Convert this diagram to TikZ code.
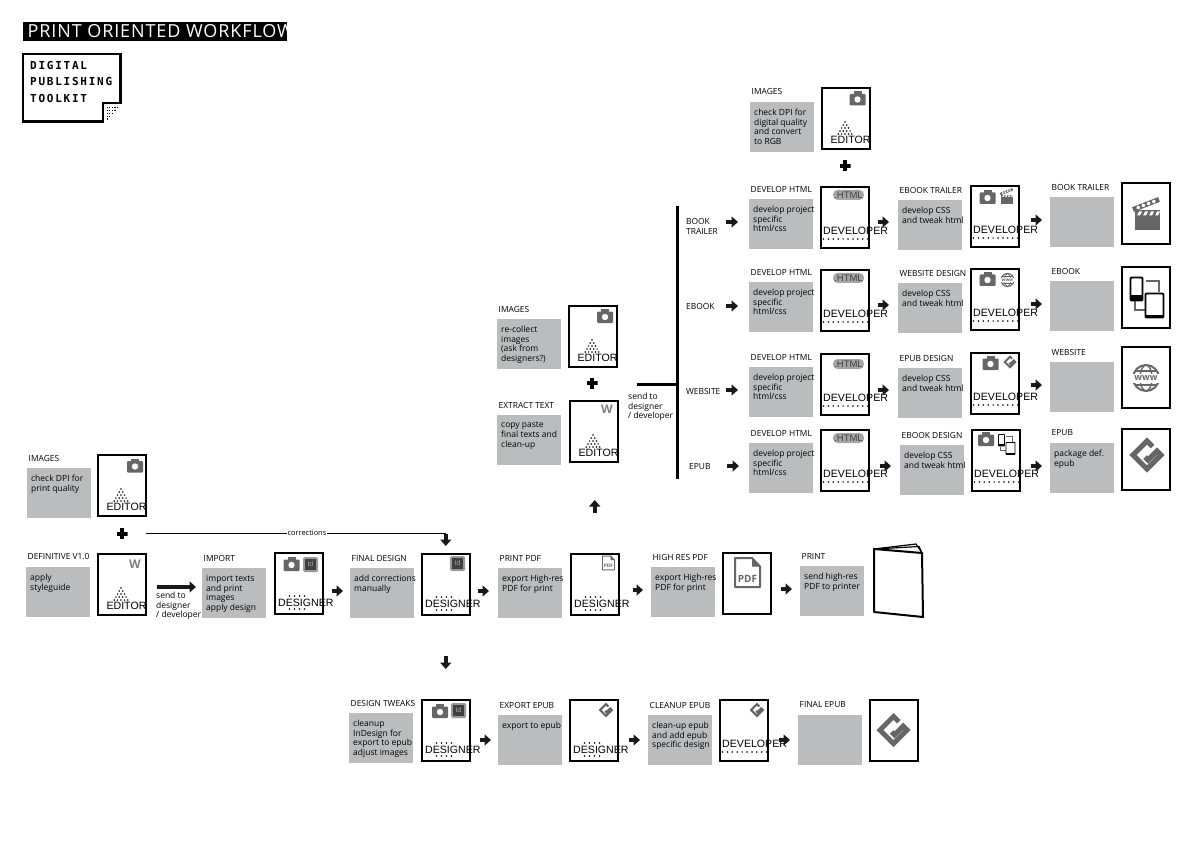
\documentclass[tikz,border=0pt]{standalone}
\usepackage{fontspec}
\setmainfont{Open Sans}
\newfontfamily\headfont[LetterSpace=5]{Open Sans}
\newfontfamily\rolefont{Liberation Sans}
\newfontfamily\logofont[LetterSpace=16]{DejaVu Sans Mono}
\usetikzlibrary{arrows.meta}

\definecolor{boxgrey}{HTML}{BBBCBE}
\definecolor{icongrey}{HTML}{666666}

\tikzset{
    greybox/.style={fill=boxgrey, anchor=north west, minimum width=64pt, minimum height=50pt, inner sep=0},
    steptitle/.style={anchor=west, inner sep=0, font=\fontsize{8.4}{9}\selectfont},
    steptext/.style={anchor=north west, inner sep=0, align=left, font=\fontsize{8.5}{9.6}\selectfont},
    docard/.style={draw, line width=2pt, fill=white, anchor=north west, minimum width=47.5pt, minimum height=61pt, inner sep=0},
    rolename/.style={inner sep=0, font=\rolefont\fontsize{10.6}{12}\selectfont},
    flow/.style={-{Triangle[length=6.5pt,width=11pt]}, line width=3.6pt, color=black!90},
    plusmark/.style={minimum size=11pt, inner sep=0, path picture={
        \fill[black] ([xshift=-5.5pt,yshift=-2pt]path picture bounding box.center) rectangle ([xshift=5.5pt,yshift=2pt]path picture bounding box.center);
        \fill[black] ([xshift=-2pt,yshift=-5.5pt]path picture bounding box.center) rectangle ([xshift=2pt,yshift=5.5pt]path picture bounding box.center);}},
    htmlpill/.style={fill=black!35, rounded corners=4.5pt, minimum width=31pt, minimum height=10pt, inner sep=0, text=black!75, font=\rolefont\fontsize{9.5}{10}\selectfont},
    wordmark/.style={inner sep=0, text=black!50, font=\bfseries\fontsize{12}{13}\selectfont},
    rowlabel/.style={anchor=west, inner sep=0, text width=36pt, align=left, font=\fontsize{8.4}{10}\selectfont},
}

\newcommand{\stepbox}[5]{%
    \node[greybox] (#1) at (#2,#3) {};
    \node[steptitle] (#1title) at (#2+1.5,#3-10) {#4};
    \node[steptext] (#1text) at (#2+4,#3+7) {#5};
}
\newcommand{\editorcard}[3]{%
    \node[docard] (#1) at (#2,#3) {};
    \foreach \r in {0,...,4}
        \foreach \d in {0,...,\r}
            \fill (#2+24+\d*3.4-\r*1.7,#3+35+\r*3) circle[radius=.85];
    \node[rolename] (#1role) at (#2+29.5,#3+53) {EDITOR};
}
\newcommand{\designercard}[3]{%
    \node[docard] (#1) at (#2,#3) {};
    \foreach \d in {0,...,3} {
        \fill (#2+15.5+\d*5,#3+44) circle[radius=.85];
        \fill (#2+15.5+\d*5,#3+57) circle[radius=.85];
    }
    \node[rolename, anchor=west] (#1role) at (#2+4,#3+50.5) {DESIGNER};
}
\newcommand{\developercard}[3]{%
    \node[docard] (#1) at (#2,#3) {};
    \foreach \d in {0,...,9}
        \fill (#2+3.5+\d*4.9,#3+53) circle[radius=.85];
    \node[rolename, anchor=west] (#1role) at (#2+3,#3+45) {DEVELOPER};
}
\newcommand{\cameraicon}[3]{%
    \begin{scope}[shift={(#1,#2)}, scale=#3]
        \fill[icongrey, rounded corners=1pt] (-8,-4.5) rectangle (8,7);
        \fill[icongrey] (-4,-7) rectangle (4,-4);
        \fill[white] (0,1) circle[radius=3.2];
    \end{scope}
}
\newcommand{\idicon}[3]{%
    \fill[black!40, rounded corners=1.5pt] (#2-7.5,#3-7.5) rectangle (#2+7.5,#3+7.5);
    \fill[black!75] (#2-5.5,#3-5.5) rectangle (#2+5.5,#3+5.5);
    \node[inner sep=0, text=black!25, font=\fontsize{6.5}{7}\selectfont] (#1) at (#2,#3) {Id};
}
\newcommand{\pdficon}[4]{%
    \begin{scope}[shift={(#2,#3)}, scale=#4]
        \draw[icongrey, line width=#4*2pt, line join=round] (-12.5,-14.5) -- (4.5,-14.5) -- (12.5,-6) -- (12.5,14.5) -- (-12.5,14.5) -- cycle;
        \fill[icongrey] (4.5,-14.5) -- (12.5,-6) -- (4.5,-6) -- cycle;
        \node[inner sep=0, text=icongrey, scale=#4, font=\bfseries\fontsize{10}{11}\selectfont] (#1) at (0,6) {PDF};
    \end{scope}
}
\newcommand{\epubicon}[3]{%
    \begin{scope}[shift={(#1,#2)}, scale=#3]
        \draw[icongrey, line width=#3*5pt, line join=miter] (5.5,-8.5) -- (0,-14) -- (-14,0) -- (0,14) -- (14,0) -- (10,-4) -- (1,5) -- (-2,2);
    \end{scope}
}
\newcommand{\clappericon}[3]{%
    \begin{scope}[shift={(#1,#2)}, scale=#3]
        \fill[icongrey] (-11,3) rectangle (14,17);
        \fill[icongrey] (-11,-3) rectangle (14,3);
        \foreach \s in {-7,-1,5,11}
            \fill[white] (\s,-2) -- (\s+3,-2) -- (\s+1,2) -- (\s-2,2) -- cycle;
        \draw[icongrey, line width=#3*5pt] (-13,-4) -- (13,-14);
        \foreach \s in {.2,.4,.6,.8}
            \fill[white, rotate around={-21:(-13+26*\s,-4-10*\s)}] (-13+26*\s-1.5,-4-10*\s-1.5) rectangle (-13+26*\s+1.5,-4-10*\s+1.5);
    \end{scope}
}
\newcommand{\globeicon}[4]{%
    \begin{scope}[shift={(#2,#3)}, scale=#4]
        \draw[icongrey, line width=#4*2pt] (0,0) circle[radius=13];
        \draw[icongrey, line width=#4*1.4pt] (0,0) ellipse[x radius=6, y radius=13];
        \draw[icongrey, line width=#4*1.4pt] (-11,-7) -- (11,-7) (-11,7) -- (11,7);
        \fill[white] (-15,-4.5) rectangle (15,4.5);
        \node[inner sep=0, text=icongrey, scale=#4, font=\bfseries\fontsize{9}{10}\selectfont] (#1) at (0,0) {www};
    \end{scope}
}
\newcommand{\devicesicon}[3]{%
    \begin{scope}[shift={(#1,#2)}, scale=#3]
        \draw[icongrey, line width=#3*1.4pt] (-1,-16.5) -- (12.5,-16.5) -- (12.5,-5);
        \draw[icongrey, line width=#3*1.4pt] (-11.5,4) -- (-11.5,12.5) -- (-2,12.5);
        \draw[black, fill=white, line width=#3*1.8pt, rounded corners=#3*1pt] (-16,-20) rectangle (-4,3);
        \fill[black] (-16,-2) rectangle (-4,3);
        \draw[black, fill=white, line width=#3*1.8pt, rounded corners=#3*1pt] (-1,-4) rectangle (17,20);
        \fill[black] (-1,17) rectangle (17,20);
    \end{scope}
}

\begin{document}
\begin{tikzpicture}[x=1pt, y=-1pt]
    \useasboundingbox (0,0) rectangle (1191,842);

    % heading
    \begin{scope}
        \clip (23,22) rectangle (287,41);
        \fill[black] (23,22) rectangle (287,41);
        \node[anchor=west, inner sep=0, text=white, font=\headfont\fontsize{18}{20}\selectfont] (heading) at (27.5,31) {PRINT ORIENTED WORKFLOW};
    \end{scope}

    % logo
    \draw[line width=2.2pt] (23,54) -- (120.5,54) -- (120.5,103) -- (103,103) -- (103,121.5) -- (23,121.5) -- cycle;
    \node[anchor=north west, inner sep=0, align=left, font=\logofont\bfseries\fontsize{11}{16.4}\selectfont] (logo) at (30,61) {DIGITAL\\PUBLISHING\\TOOLKIT};
    \foreach \r in {0,...,4}
        \foreach \d in {\r,...,4}
            \fill (106.5+\r*2.6,118.5-\d*2.8+\r*0) rectangle +(1.2,1.2);

    % first row
    \stepbox{imagesone}{27}{468}{IMAGES}{check DPI for\\print quality}
    \editorcard{imagesonecard}{97}{454}
    \cameraicon{135}{465.5}{1}
    \node[plusmark] (plusone) at (122,533.5) {};
    \stepbox{definitive}{26}{567}{DEFINITIVE V1.0}{apply\\styleguide}
    \editorcard{definitivecard}{97}{553}
    \node[wordmark] (definitiveword) at (135,564) {W};
    \node[steptext] (sendone) at (156,592) {send to\\designer\\/ developer};
    \stepbox{import}{202}{568}{IMPORT}{import texts\\and print\\images\\apply design}
    \designercard{importcard}{274}{552}
    \cameraicon{291.5}{564}{1}
    \idicon{importid}{310.5}{564.5}
    \stepbox{final}{350}{568}{FINAL DESIGN}{add corrections\\manually}
    \designercard{finalcard}{421}{553}
    \idicon{finalid}{457.5}{563.5}
    \stepbox{printpdf}{498}{568}{PRINT PDF}{export High-res\\PDF for print}
    \designercard{printpdfcard}{570}{553}
    \pdficon{printpdfmark}{608.5}{563}{.48}
    \stepbox{highres}{651}{567}{HIGH RES PDF}{export High-res\\PDF for print}
    \node[docard] (highrescard) at (722,552) {};
    \pdficon{highresmark}{747.5}{572.5}{1}
    \stepbox{print}{800}{566}{PRINT}{send high-res\\PDF to printer}
    \draw[line width=1.2pt] (874,549) -- (916,544) -- (922,553);
    \draw[line width=1.2pt] (874,549) -- (919,546.5) -- (922,553);
    \draw[line width=2pt, fill=white, line join=round] (874,549) -- (922,553) -- (923,617) -- (874,612) -- cycle;

    \draw[flow, shorten <=10pt, shorten >=6pt] (definitivecard.east |- 0,587) -- (import.west |- 0,587);
    \draw[flow, shorten <=8pt, shorten >=7pt] (importcard.east |- 0,591) -- (final.west |- 0,591);
    \draw[flow, shorten <=7pt, shorten >=9pt] (finalcard.east |- 0,591) -- (printpdf.west |- 0,591);
    \draw[flow, shorten <=13pt, shorten >=8pt] (printpdfcard.east |- 0,590) -- (highres.west |- 0,590);
    \draw[flow, shorten <=9pt, shorten >=8pt] (highrescard.east |- 0,589) -- (print.west |- 0,589);

    % corrections
    \draw[line width=.8pt, shorten <=18.5pt] (plusone.east) -- (finalcard.north |- plusone.east);
    \draw[flow, shorten >=7pt] (finalcard.north |- plusone.east) -- (finalcard.north);
    \node[fill=white, inner sep=1pt, font=\fontsize{7.4}{8}\selectfont] (correctionslabel) at (307,533) {corrections};

    % epub row
    \stepbox{tweaks}{349}{713}{DESIGN TWEAKS}{cleanup\\InDesign for\\export to epub\\adjust images}
    \designercard{tweakscard}{421}{699}
    \cameraicon{440}{711}{1}
    \idicon{tweaksid}{458.5}{710.5}
    \stepbox{exportepub}{498}{715}{EXPORT EPUB}{export to epub}
    \designercard{exportepubcard}{569}{699}
    \epubicon{606}{710}{.42}
    \stepbox{cleanup}{648}{715}{CLEANUP EPUB}{clean-up epub\\and add epub\\specific design}
    \developercard{cleanupcard}{719}{699}
    \epubicon{757}{710}{.42}
    \stepbox{finalepub}{798}{715}{FINAL EPUB}{}
    \node[docard] (finalepubcard) at (869,699) {};
    \epubicon{893.5}{730}{.97}

    \draw[flow, shorten <=40pt, shorten >=30pt] (finalcard.south) -- (tweakscard.north -| finalcard.south);
    \draw[flow, shorten <=9pt, shorten >=7pt] (tweakscard.east |- 0,740) -- (exportepub.west |- 0,740);
    \draw[flow, shorten <=10pt, shorten >=8pt] (exportepubcard.east |- 0,740) -- (cleanup.west |- 0,740);
    \draw[flow, shorten <=10pt, shorten >=8pt] (cleanupcard.east |- 0,740) -- (finalepub.west |- 0,740);

    % sending on
    \stepbox{imagestwo}{497}{319}{IMAGES}{re-collect\\images\\(ask from\\designers?)}
    \editorcard{imagestwocard}{568}{305}
    \cameraicon{605}{316}{1}
    \node[plusmark] (plustwo) at (592,383) {};
    \stepbox{extract}{497}{415}{EXTRACT TEXT}{copy paste\\final texts and\\clean-up}
    \editorcard{extractcard}{569}{400}
    \node[wordmark] (extractword) at (607,409) {W};
    \node[steptext] (sendtwo) at (628,393) {send to\\designer\\/ developer};
    \draw[flow, shorten <=40pt, shorten >=37pt] (printpdfcard.north) -- (printpdfcard.north |- extractcard.south);
    \coordinate (trunktop) at (677.5,206);
    \coordinate (trunkbottom) at (677.5,479);
    \coordinate (sendstart) at (637,384);
    \draw[line width=3pt] (trunktop) -- (trunkbottom);
    \draw[line width=3pt] (sendstart) -- (sendstart -| trunktop);

    % images on top
    \stepbox{imagesthree}{750}{102}{IMAGES}{check DPI for\\digital quality\\and convert\\to RGB}
    \editorcard{imagesthreecard}{821}{87}
    \cameraicon{857.5}{98.5}{1}
    \node[plusmark] (plusthree) at (845,166) {};

    % book trailer row
    \node[rowlabel] (trailerlabel) at (686,226) {BOOK\\TRAILER};
    \stepbox{trailerhtml}{749}{199}{DEVELOP HTML}{develop project\\specific\\html/css}
    \developercard{trailerhtmlcard}{820}{186}
    \node[htmlpill] (trailerpill) at (848.5,195) {.HTML};
    \stepbox{trailercss}{898}{200}{EBOOK TRAILER}{develop CSS\\and tweak html}
    \developercard{trailercsscard}{970}{185}
    \cameraicon{987.5}{197}{1}
    \clappericon{1006.5}{196}{.48}
    \stepbox{trailerend}{1050}{197}{BOOK TRAILER}{}
    \node[docard] (trailerendcard) at (1121,182) {};
    \clappericon{1146}{213.5}{1}
    \draw[flow, shorten <=4pt, shorten >=11pt] (trailerlabel.east |- 0,222) -- (trailerhtml.west |- 0,222);
    \draw[flow, shorten <=8pt, shorten >=9pt] (trailerhtmlcard.east |- 0,222) -- (trailercss.west |- 0,222);
    \draw[flow, shorten <=11pt, shorten >=8pt] (trailercsscard.east |- 0,220) -- (trailerend.west |- 0,220);

    % ebook row
    \node[rowlabel] (ebooklabel) at (686,306) {EBOOK};
    \stepbox{ebookhtml}{749}{282}{DEVELOP HTML}{develop project\\specific\\html/css}
    \developercard{ebookhtmlcard}{820}{269}
    \node[htmlpill] (ebookpill) at (848.5,278) {.HTML};
    \stepbox{ebookcss}{898}{283}{WEBSITE DESIGN}{develop CSS\\and tweak html}
    \developercard{ebookcsscard}{970}{268}
    \cameraicon{987.5}{279}{1}
    \globeicon{ebookglobe}{1007.5}{280}{.5}
    \stepbox{ebookend}{1050}{281}{EBOOK}{}
    \node[docard] (ebookendcard) at (1121,266) {};
    \devicesicon{1146.5}{297.5}{1}
    \draw[flow, shorten <=4pt, shorten >=11pt] (ebooklabel.east |- 0,306) -- (ebookhtml.west |- 0,306);
    \draw[flow, shorten <=8pt, shorten >=9pt] (ebookhtmlcard.east |- 0,305) -- (ebookcss.west |- 0,305);
    \draw[flow, shorten <=11pt, shorten >=8pt] (ebookcsscard.east |- 0,304) -- (ebookend.west |- 0,304);

    % website row
    \node[rowlabel] (websitelabel) at (686,391) {WEBSITE};
    \stepbox{websitehtml}{749}{367}{DEVELOP HTML}{develop project\\specific\\html/css}
    \developercard{websitehtmlcard}{820}{353}
    \node[htmlpill] (websitepill) at (848.5,364) {.HTML};
    \stepbox{websitecss}{898}{368}{EPUB DESIGN}{develop CSS\\and tweak html}
    \developercard{websitecsscard}{970}{352}
    \cameraicon{990.5}{363}{1}
    \epubicon{1010}{362}{.38}
    \stepbox{websiteend}{1050}{362}{WEBSITE}{}
    \node[docard] (websiteendcard) at (1121,346) {};
    \globeicon{websiteglobe}{1146}{378}{1}
    \draw[flow, shorten <=4pt, shorten >=11pt] (websitelabel.east |- 0,390) -- (websitehtml.west |- 0,390);
    \draw[flow, shorten <=8pt, shorten >=9pt] (websitehtmlcard.east |- 0,390) -- (websitecss.west |- 0,390);
    \draw[flow, shorten <=11pt, shorten >=8pt] (websitecsscard.east |- 0,385) -- (websiteend.west |- 0,385);

    % epub row
    \node[rowlabel] (epublabel) at (689,467) {EPUB};
    \stepbox{epubhtml}{749}{443}{DEVELOP HTML}{develop project\\specific\\html/css}
    \developercard{epubhtmlcard}{820}{429}
    \node[htmlpill] (epubpill) at (848.5,438) {.HTML};
    \stepbox{epubcss}{900}{445}{EBOOK DESIGN}{develop CSS\\and tweak html}
    \developercard{epubcsscard}{971}{429}
    \cameraicon{986}{439}{1}
    \devicesicon{1006.5}{444.5}{.5}
    \stepbox{epubend}{1050}{443}{EPUB}{package def.\\epub}
    \node[docard] (epubendcard) at (1121,428) {};
    \epubicon{1147}{455}{1}
    \draw[flow, shorten <=2pt, shorten >=10pt] (epublabel.east |- 0,466) -- (epubhtml.west |- 0,466);
    \draw[flow, shorten <=10pt, shorten >=9pt] (epubhtmlcard.east |- 0,466) -- (epubcss.west |- 0,466);
    \draw[flow, shorten <=10pt, shorten >=8pt] (epubcsscard.east |- 0,466) -- (epubend.west |- 0,466);
\end{tikzpicture}
\end{document}
